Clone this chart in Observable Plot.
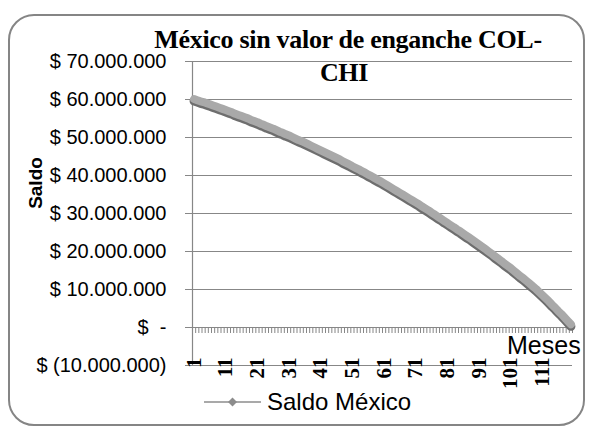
<!DOCTYPE html>
<html>
<head>
<meta charset="utf-8">
<script src="https://cdn.jsdelivr.net/npm/d3@7"></script>
<script src="https://cdn.jsdelivr.net/npm/@observablehq/plot@0.6"></script>
<style>
  html, body { margin: 0; padding: 0; background: #fff; }
  #wrap { position: relative; width: 593px; height: 433px; overflow: hidden; background: #fff; }
  #frame { position: absolute; left: 8px; top: 14px; width: 577px; height: 412px; box-sizing: border-box;
           border: 2px solid #858585; border-radius: 26px; }
  #chart { position: absolute; left: 0; top: 0; }
  .title { position: absolute; width: 420px; text-align: center; font-family: "Liberation Serif", "Times New Roman", serif;
           font-weight: bold; font-size: 26px; line-height: 30px; color: #000; white-space: nowrap; letter-spacing: -0.3px; }
  #meses { position: absolute; left: 507px; top: 331px; font-family: "Liberation Sans", Arial, sans-serif;
           font-size: 25px; line-height: 28px; color: #000; }
  #saldo { position: absolute; left: 36px; top: 183px; transform: translate(-50%, -50%) rotate(-90deg);
           font-family: "Liberation Sans", Arial, sans-serif; font-weight: bold; font-size: 19px; line-height: 20px; color: #000; white-space: nowrap; }
  #legend { position: absolute; left: 200px; top: 388px; height: 27px; display: flex; align-items: center; }
  #legend span { font-family: "Liberation Sans", Arial, sans-serif; font-size: 24px; line-height: 27px; color: #000; margin-left: 4px; }
</style>
</head>
<body>
<div id="wrap">
  <div id="frame"></div>
  <div id="chart"></div>
  <div class="title" style="left:138px; top:25px;">México sin valor de enganche COL-</div>
  <div class="title" style="left:134px; top:58px;">CHI</div>
  <div id="meses">Meses</div>
  <div id="saldo">Saldo</div>
  <div id="legend">
    <svg width="63" height="14" viewBox="0 0 63 14">
      <line x1="4" y1="7" x2="61" y2="7" stroke="#8c8c8c" stroke-width="1.6"></line>
      <path d="M32.5 2.5 L37 7 L32.5 11.5 L28 7 Z" fill="#8c8c8c"></path>
    </svg>
    <span>Saldo México</span>
  </div>
</div>
<script>
// ---- data ----
const months = d3.range(1, 121);
// Saldo México, in millions of pesos (month 1 .. 120)
const saldoMillones = [
  60.0, 59.7, 59.4, 59.2, 58.9, 58.6, 58.3, 58.0, 57.7, 57.4,
  57.1, 56.8, 56.5, 56.1, 55.8, 55.5, 55.2, 54.9, 54.5, 54.2,
  53.9, 53.5, 53.2, 52.8, 52.5, 52.2, 51.8, 51.4, 51.1, 50.7,
  50.4, 50.0, 49.6, 49.2, 48.9, 48.5, 48.1, 47.7, 47.3, 46.9,
  46.5, 46.1, 45.7, 45.3, 44.9, 44.5, 44.1, 43.6, 43.2, 42.8,
  42.3, 41.9, 41.5, 41.0, 40.6, 40.1, 39.7, 39.2, 38.7, 38.3,
  37.8, 37.3, 36.8, 36.3, 35.8, 35.3, 34.8, 34.3, 33.8, 33.3,
  32.8, 32.3, 31.7, 31.2, 30.7, 30.1, 29.6, 29.0, 28.5, 27.9,
  27.4, 26.8, 26.3, 25.7, 25.2, 24.6, 24.0, 23.5, 22.9, 22.3,
  21.7, 21.1, 20.5, 19.9, 19.3, 18.6, 18.0, 17.4, 16.7, 16.1,
  15.5, 14.8, 14.1, 13.4, 12.8, 12.1, 11.4, 10.7, 10.0, 9.2,
  8.4, 7.6, 6.8, 5.9, 5.1, 4.2, 3.4, 2.5, 1.6, 0.7
];
const xTickLabels = [1, 11, 21, 31, 41, 51, 61, 71, 81, 91, 101, 111];
const yTicks = [-10000000, 0, 10000000, 20000000, 30000000, 40000000, 50000000, 60000000, 70000000];

// ---- build ----
const rows = months.map((m, i) => ({month: m, saldo: saldoMillones[i] * 1e6}));
const boundaries = months.map(m => m - 0.5).concat([months[months.length - 1] + 0.5]);

const num = d3.format(",");
function fmtPeso(v) {
  if (v === 0) return "$\u00a0\u00a0-";
  const s = num(Math.abs(v)).replace(/,/g, ".");
  return v < 0 ? "$ (" + s + ")" : "$ " + s;
}

const gridColor = "#878787";

const chart = Plot.plot({
  width: 593,
  height: 433,
  marginLeft: 192,
  marginRight: 21,
  marginTop: 61,
  marginBottom: 68,
  x: {domain: [0.5, 120.5], label: null},
  y: {domain: [-10000000, 70000000], label: null},
  style: {background: "transparent", fontFamily: "'Liberation Sans', Arial, sans-serif", fontSize: "20px", color: "#000", overflow: "visible"},
  marks: [
    Plot.gridY({ticks: yTicks, stroke: gridColor, strokeOpacity: 1, strokeWidth: 1.2}),
    Plot.ruleX([0.5], {stroke: gridColor, strokeWidth: 1.2}),
    Plot.axisY({ticks: yTicks, tickSize: 7, tickPadding: 19, tickFormat: fmtPeso, stroke: gridColor, fill: "#000", fontSize: 20, label: null}),
    Plot.axisX({anchor: "bottom", ticks: boundaries, tickSize: 6, tickFormat: () => "", dy: -38, stroke: gridColor, label: null}),
    Plot.axisX({anchor: "bottom", ticks: xTickLabels, tickSize: 0, tickPadding: -8, tickRotate: -90, label: null,
                fontFamily: "'Liberation Serif', 'Times New Roman', serif", fontWeight: "bold", fontSize: 21, fill: "#000"}),
    Plot.line(rows, {x: "month", y: "saldo", stroke: "#6e6e6e", strokeWidth: 9, dy: 1.5}),
    Plot.line(rows, {x: "month", y: "saldo", stroke: "#a9a9a9", strokeWidth: 8, dy: -0.5})
  ]
});
document.getElementById("chart").appendChild(chart);
</script>
</body>
</html>
